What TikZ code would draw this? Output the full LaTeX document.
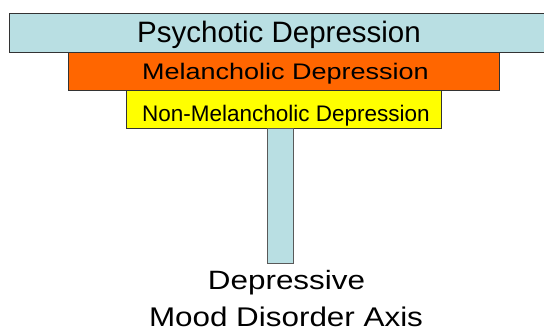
\documentclass[tikz,border=0pt]{standalone}
\usepackage{fontspec}
\setmainfont{Liberation Sans}
\definecolor{bleuclair}{HTML}{B9DFE3}
\definecolor{orangemel}{HTML}{FF6600}
\definecolor{jaune}{HTML}{FFFF00}
\begin{document}
\begin{tikzpicture}[x=1pt,y=-1pt,
  bande/.style={draw=black!80,line width=0.9pt},
  texte/.style={inner sep=0pt,anchor=base}]
\useasboundingbox (0,0) rectangle (544,332);
% Psychotic
\draw[bande,fill=bleuclair] (9,13) rectangle (550,52);
\node[texte] (psy) at (279,42.7) {\fontsize{29.5}{35}\selectfont Psychotic Depression};
% Melancholic
\draw[bande,fill=orangemel] (68,52) rectangle (499,90);
\node[texte] (mel) at (285.5,79) {\fontsize{22.5}{27}\selectfont\scalebox{1.2}[1]{Melancholic Depression}};
% Non-melancholic
\draw[bande,fill=jaune] (126,90) rectangle (441,128);
\node[texte] (nonmel) at (286,121.7) {\fontsize{22.5}{27}\selectfont Non-Melancholic Depression};
% Axis
\draw[bande,draw=black!65,fill=bleuclair] (267,128) rectangle (293,263);
\node[texte] (dep) at (286.5,289) {\fontsize{26.5}{32}\selectfont\scalebox{1.185}[1]{Depressive}};
\node[texte] (axe) at (286,326.5) {\fontsize{27}{32}\selectfont\scalebox{1.163}[1]{Mood Disorder Axis}};
\end{tikzpicture}
\end{document}
